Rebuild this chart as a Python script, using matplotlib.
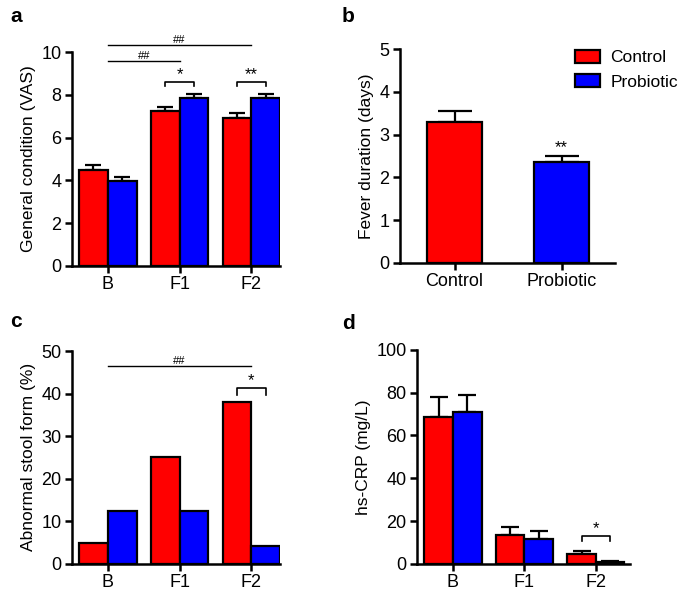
import numpy as np
import matplotlib
matplotlib.use('Agg')
import matplotlib.pyplot as plt
from matplotlib.patches import Patch

plt.rcParams['font.family'] = ['Liberation Sans', 'DejaVu Sans']
plt.rcParams['font.size'] = 11

RED = '#ff0000'
BLUE = '#0000ff'

# ----------------------------------------------------------------------------
# data
groups = ['B', 'F1', 'F2']

vas_control = [4.5, 7.25, 6.92]
vas_control_err = [0.2, 0.2, 0.25]
vas_probiotic = [3.98, 7.87, 7.86]
vas_probiotic_err = [0.18, 0.18, 0.19]

fever_labels = ['Control', 'Probiotic']
fever_mean = [3.29, 2.36]
fever_err = [0.26, 0.14]

stool_control = [5.0, 25.0, 38.0]
stool_probiotic = [12.5, 12.5, 4.2]

crp_control = [68.6, 13.7, 4.4]
crp_control_err = [9.5, 3.3, 1.5]
crp_probiotic = [70.8, 11.4, 0.9]
crp_probiotic_err = [8.2, 4.0, 0.3]

# ----------------------------------------------------------------------------

fig = plt.figure(figsize=(6.85, 5.91), dpi=100)

ax_a = fig.add_axes([0.105, 0.550, 0.304, 0.362])
ax_b = fig.add_axes([0.584, 0.555, 0.314, 0.362])
ax_c = fig.add_axes([0.105, 0.046, 0.304, 0.360])
ax_d = fig.add_axes([0.609, 0.046, 0.311, 0.362])

TICK_FS = 13
LABEL_FS = 12.5


def style_axes(ax):
    for s in ['top', 'right']:
        ax.spines[s].set_visible(False)
    for s in ['left', 'bottom']:
        ax.spines[s].set_linewidth(1.8)
    ax.tick_params(width=1.8, length=5, direction='out', labelsize=TICK_FS,
                   pad=2.5)


def grouped_bars(ax, ctrl, prob, ctrl_err=None, prob_err=None, cap=6):
    x = np.arange(len(groups))
    w = 0.4
    kw = dict(width=w, edgecolor='black', linewidth=1.6, zorder=2)
    ax.bar(x - w / 2, ctrl, color=RED, **kw)
    ax.bar(x + w / 2, prob, color=BLUE, **kw)
    if ctrl_err is not None:
        ax.errorbar(x - w / 2, ctrl, yerr=[np.zeros(3), ctrl_err], fmt='none',
                    ecolor='black', elinewidth=1.6, capsize=cap, capthick=1.6,
                    zorder=1)
        ax.errorbar(x + w / 2, prob, yerr=[np.zeros(3), prob_err], fmt='none',
                    ecolor='black', elinewidth=1.6, capsize=cap, capthick=1.6,
                    zorder=1)
    ax.set_xticks(x)
    ax.set_xticklabels(groups)
    ax.set_xlim(-0.5, 2.4)
    style_axes(ax)


def hline(ax, x0, x1, y, text):
    ax.plot([x0, x1], [y, y], color='black', lw=1.0, clip_on=False)
    ax.text((x0 + x1) / 2, y, text, ha='center', va='bottom', fontsize=8,
            clip_on=False)


def bracket(ax, x0, x1, y, drop, text):
    ax.plot([x0, x0, x1, x1], [y - drop, y, y, y - drop], color='black',
            lw=1.2, clip_on=False)
    ax.text((x0 + x1) / 2, y, text, ha='center', va='bottom', fontsize=12,
            clip_on=False)


# panel a
grouped_bars(ax_a, vas_control, vas_probiotic, vas_control_err,
             vas_probiotic_err, cap=6)
ax_a.set_ylim(0, 10)
ax_a.set_yticks([0, 2, 4, 6, 8, 10])
ax_a.set_ylabel('General condition (VAS)', fontsize=LABEL_FS)
hline(ax_a, 0, 2, 10.31, '##')
hline(ax_a, 0, 1, 9.56, '##')
bracket(ax_a, 0.8, 1.2, 8.6, 0.2, '*')
bracket(ax_a, 1.8, 2.2, 8.6, 0.2, '**')

# panel b
xb = np.arange(len(fever_labels))
ax_b.bar(xb, fever_mean, width=0.51, color=[RED, BLUE], edgecolor='black',
         linewidth=1.6, zorder=2)
ax_b.errorbar(xb, fever_mean, yerr=[np.zeros(2), fever_err], fmt='none',
              ecolor='black', elinewidth=1.6, capsize=12, capthick=1.6,
              zorder=1)
ax_b.text(1, fever_mean[1] + fever_err[1] + 0.01, '**', ha='center',
          va='bottom', fontsize=12)
ax_b.set_xticks(xb)
ax_b.set_xticklabels(fever_labels)
ax_b.set_xlim(-0.51, 1.5)
ax_b.set_ylim(0, 5)
ax_b.set_ylabel('Fever duration (days)', fontsize=LABEL_FS)
style_axes(ax_b)
handles = [Patch(facecolor=RED, edgecolor='black', linewidth=1.6,
                 label='Control'),
           Patch(facecolor=BLUE, edgecolor='black', linewidth=1.6,
                 label='Probiotic')]
fig.legend(handles=handles, loc='upper left',
           bbox_to_anchor=(575 / 685, 1 - 50 / 591), frameon=False,
           fontsize=12.5, borderpad=0, borderaxespad=0, handlelength=1.45,
           handleheight=0.75, handletextpad=0.6, labelspacing=0.5)

# panel c
grouped_bars(ax_c, stool_control, stool_probiotic)
ax_c.set_ylim(0, 50)
ax_c.set_yticks([0, 10, 20, 30, 40, 50])
ax_c.set_ylabel('Abnormal stool form (%)', fontsize=LABEL_FS)
hline(ax_c, 0, 2, 46.4, '##')
bracket(ax_c, 1.8, 2.2, 41.2, 1.6, '*')

# panel d
grouped_bars(ax_d, crp_control, crp_probiotic, crp_control_err,
             crp_probiotic_err, cap=6.5)
ax_d.set_xlim(-0.5, 2.48)
ax_d.set_ylim(0, 100)
ax_d.set_yticks([0, 20, 40, 60, 80, 100])
ax_d.set_ylabel('hs-CRP (mg/L)', fontsize=LABEL_FS)
bracket(ax_d, 1.8, 2.2, 12.9, 2.3, '*')

# panel letters
for lab, (px, py) in zip('abcd', [(10, 22), (342, 22), (10, 327), (342, 329)]):
    fig.text(px / 685, 1 - py / 591, lab, fontsize=15, fontweight='bold',
             ha='left', va='baseline')

fig.savefig('out.png', dpi=100)
